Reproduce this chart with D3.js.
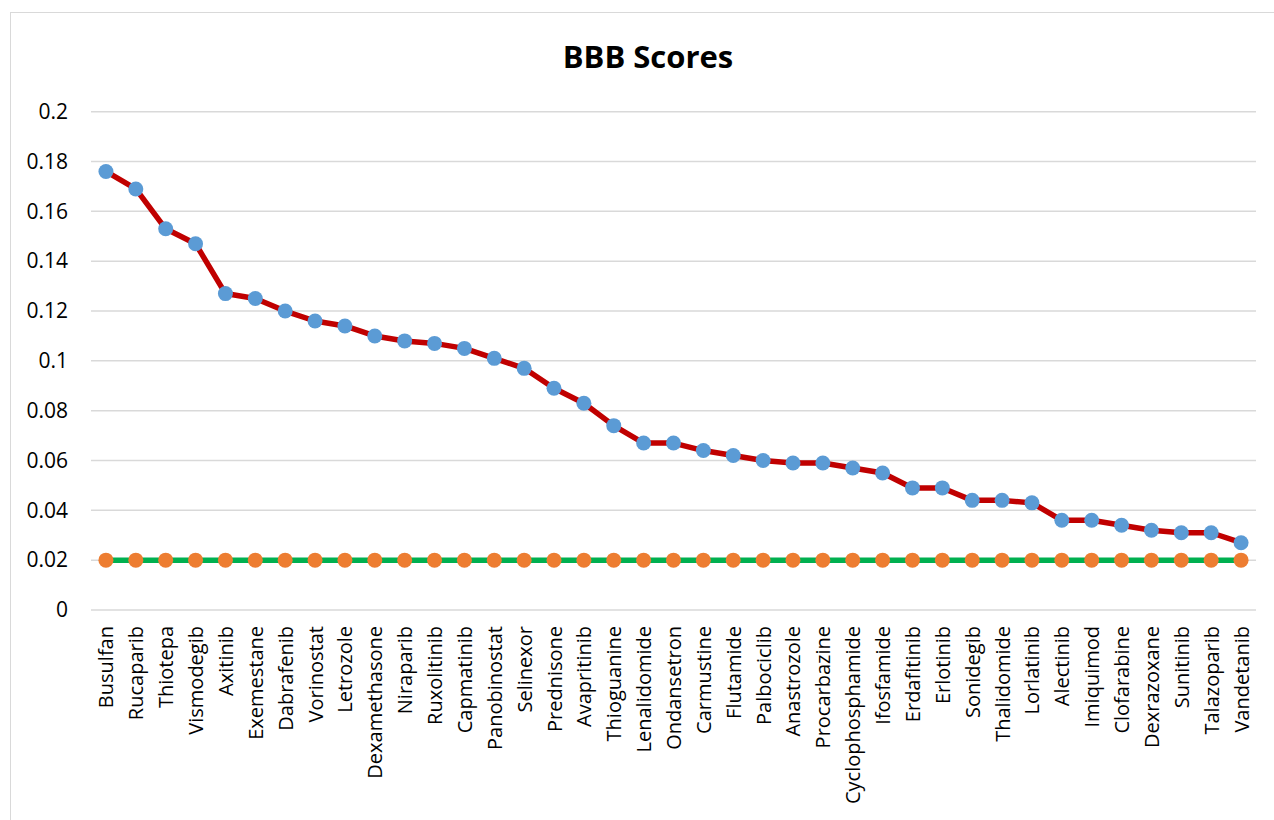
<!DOCTYPE html>
<html>
<head>
<meta charset="utf-8">
<script src="https://cdn.jsdelivr.net/npm/d3@7"></script>
<style>
  html, body { margin: 0; padding: 0; background: #fff; }
  svg { display: block; }
</style>
</head>
<body>
<svg id="chart" width="1274" height="820"></svg>
<script>
// Drug names in plotted order
const drugs = [
  "Busulfan", "Rucaparib", "Thiotepa", "Vismodegib", "Axitinib", "Exemestane",
  "Dabrafenib", "Vorinostat", "Letrozole", "Dexamethasone", "Niraparib",
  "Ruxolitinib", "Capmatinib", "Panobinostat", "Selinexor", "Prednisone",
  "Avapritinib", "Thioguanine", "Lenalidomide", "Ondansetron", "Carmustine",
  "Flutamide", "Palbociclib", "Anastrozole", "Procarbazine", "Cyclophosphamide",
  "Ifosfamide", "Erdafitinib", "Erlotinib", "Sonidegib", "Thalidomide",
  "Lorlatinib", "Alectinib", "Imiquimod", "Clofarabine", "Dexrazoxane",
  "Sunitinib", "Talazoparib", "Vandetanib"
];

// BBB score per drug
const scores = [
  0.176, 0.169, 0.153, 0.147, 0.127, 0.125,
  0.120, 0.116, 0.114, 0.110, 0.108,
  0.107, 0.105, 0.101, 0.097, 0.089,
  0.083, 0.074, 0.067, 0.067, 0.064,
  0.062, 0.060, 0.059, 0.059, 0.057,
  0.055, 0.049, 0.049, 0.044, 0.044,
  0.043, 0.036, 0.036, 0.034, 0.032,
  0.031, 0.031, 0.027
];

// Threshold reference line
const threshold = [
  0.02, 0.02, 0.02, 0.02, 0.02, 0.02, 0.02, 0.02, 0.02, 0.02,
  0.02, 0.02, 0.02, 0.02, 0.02, 0.02, 0.02, 0.02, 0.02, 0.02,
  0.02, 0.02, 0.02, 0.02, 0.02, 0.02, 0.02, 0.02, 0.02, 0.02,
  0.02, 0.02, 0.02, 0.02, 0.02, 0.02, 0.02, 0.02, 0.02
];

const yTicks = [0, 0.02, 0.04, 0.06, 0.08, 0.1, 0.12, 0.14, 0.16, 0.18, 0.2];

const svg = d3.select("#chart");
const font = "'Open Sans', 'DejaVu Sans', sans-serif";

// Chart frame
svg.append("rect")
  .attr("x", 10.5).attr("y", 12.5)
  .attr("width", 1300).attr("height", 900)
  .attr("fill", "none").attr("stroke", "#d9d9d9").attr("stroke-width", 1);

// Title
svg.append("text")
  .attr("x", 648).attr("y", 68)
  .attr("text-anchor", "middle")
  .attr("font-family", font)
  .attr("font-weight", "bold")
  .attr("font-size", 31)
  .attr("fill", "#000")
  .text("BBB Scores");

const plotLeft = 91, plotRight = 1256, plotTop = 111.7, plotBottom = 610;

const x = d3.scalePoint().domain(drugs).range([plotLeft, plotRight]).padding(0.5);
const y = d3.scaleLinear().domain([0, 0.2]).range([plotBottom, plotTop]);

// Horizontal gridlines
svg.append("g")
  .selectAll("line")
  .data(yTicks)
  .join("line")
  .attr("x1", plotLeft).attr("x2", plotRight)
  .attr("y1", d => y(d)).attr("y2", d => y(d))
  .attr("stroke", "#d9d9d9").attr("stroke-width", 1.5);

// Y axis labels
const yAxis = d3.axisLeft(y).tickValues(yTicks).tickSize(0).tickPadding(0)
  .tickFormat(d => d3.format("~g")(d));
const gy = svg.append("g").attr("transform", "translate(68,0)").call(yAxis);
gy.select(".domain").remove();
gy.selectAll("text")
  .attr("font-family", font)
  .attr("font-size", 21)
  .attr("fill", "#000");

// X axis labels (rotated)
const xAxis = d3.axisBottom(x).tickSize(0).tickPadding(0);
const gx = svg.append("g").attr("transform", `translate(0,${plotBottom})`).call(xAxis);
gx.select(".domain").remove();
gx.selectAll("text")
  .attr("font-family", font)
  .attr("font-size", 20)
  .attr("fill", "#000")
  .attr("text-anchor", "end")
  .attr("dy", null)
  .attr("y", 0)
  .attr("transform", "translate(7,16) rotate(-90)");

// Threshold series
const line = d3.line().x((d, i) => x(drugs[i])).y(d => y(d));
svg.append("path")
  .datum(threshold)
  .attr("d", line)
  .attr("fill", "none")
  .attr("stroke", "#00b050")
  .attr("stroke-width", 5.5)
  .attr("stroke-linejoin", "round");
svg.append("g")
  .selectAll("circle")
  .data(threshold)
  .join("circle")
  .attr("cx", (d, i) => x(drugs[i]))
  .attr("cy", d => y(d))
  .attr("r", 7.5)
  .attr("fill", "#ed7d31");

// Score series
svg.append("path")
  .datum(scores)
  .attr("d", line)
  .attr("fill", "none")
  .attr("stroke", "#c00000")
  .attr("stroke-width", 5.5)
  .attr("stroke-linejoin", "round");
svg.append("g")
  .selectAll("circle")
  .data(scores)
  .join("circle")
  .attr("cx", (d, i) => x(drugs[i]))
  .attr("cy", d => y(d))
  .attr("r", 7.5)
  .attr("fill", "#5b9bd5");
</script>
</body>
</html>
